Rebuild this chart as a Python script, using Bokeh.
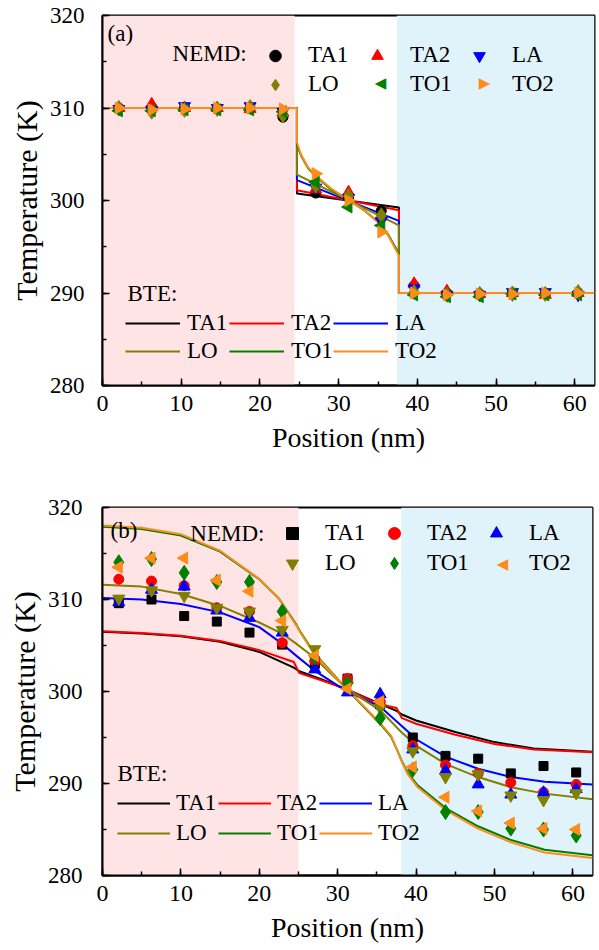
import numpy as np
from bokeh.plotting import figure
from bokeh.models import (BoxAnnotation, Label, Legend, LegendItem, Range1d,
                          SingleIntervalTicker)
from bokeh.layouts import column
from bokeh.embed import file_html
from bokeh.resources import INLINE

FONT = "Liberation Serif"

# ---------------- data ----------------
modes = ["TA1", "TA2", "LA", "LO", "TO1", "TO2"]

x_nemd = [2.08, 6.25, 10.42, 14.58, 18.75, 22.92, 27.08, 31.25, 35.42,
          39.58, 43.75, 47.92, 52.08, 56.25, 60.42]

# panel (a) NEMD
a_TA1 = [310.0, 310.1, 310.0, 309.9, 310.0, 309.0, 300.8, 300.3, 298.9, 290.8, 290.0, 289.9, 290.0, 289.9, 290.0]
a_TA2 = [310.0, 310.4, 310.0, 310.0, 309.9, 309.5, 301.2, 300.9, 298.3, 291.0, 290.2, 289.9, 290.0, 289.8, 290.0]
a_LA = [309.9, 309.8, 310.2, 310.0, 310.2, 309.6, 301.4, 300.3, 297.8, 290.5, 289.8, 289.8, 290.1, 290.1, 289.8]
a_LO = [310.0, 309.6, 309.8, 309.9, 310.1, 309.2, 301.6, 300.5, 298.4, 290.1, 289.8, 289.9, 289.9, 289.9, 290.1]
a_TO1 = [309.7, 309.7, 309.8, 309.8, 309.8, 309.6, 302.0, 299.3, 297.3, 289.8, 289.6, 289.6, 289.9, 289.8, 289.8]
a_TO2 = [310.0, 309.8, 309.9, 310.0, 310.0, 309.9, 302.9, 300.0, 296.6, 290.0, 289.8, 289.9, 289.9, 290.0, 290.0]

# panel (a) BTE
xa_lin = [0.0, 24.7, 24.7, 37.66, 37.66, 62.5]
a_bte_TA1 = [310, 310, 300.75, 299.25, 290, 290]
a_bte_TA2 = [310, 310, 301.1, 298.95, 290, 290]
a_bte_LA = [310, 310, 302.2, 297.8, 290, 290]
a_bte_LO = [310, 310, 302.8, 297.3, 290, 290]
xa_to = [0.0, 24.7, 24.7, 25.2, 26.1, 27.35, 29.05, 31.2, 33.3, 35.0, 36.3, 37.1, 37.66, 37.66, 62.5]
a_bte_TO1 = [310, 310, 306.0, 304.9, 303.5, 302.4, 301.2, 300.1, 298.9, 297.7, 296.3, 295.1, 294.3, 290, 290]
a_bte_TO2 = [310, 310, 306.3, 305.0, 303.6, 302.5, 301.3, 300.1, 298.9, 297.65, 296.2, 294.95, 294.05, 290, 290]

# panel (b) NEMD
b_TA1 = [309.6, 310.0, 308.2, 307.6, 306.4, 305.1, 303.0, 301.4, 298.6, 295.0, 293.0, 292.7, 291.1, 291.9, 291.2]
b_TA2 = [312.2, 312.0, 311.5, 309.1, 308.7, 305.3, 303.3, 301.4, 298.9, 294.1, 292.0, 291.1, 290.1, 289.05, 289.9]
b_LA = [309.7, 311.05, 311.4, 308.8, 308.0, 306.4, 302.4, 299.9, 299.7, 293.7, 291.4, 289.9, 288.8, 289.0, 289.4]
b_LO = [310.1, 311.0, 310.4, 309.1, 308.7, 306.7, 304.6, 300.65, 298.2, 293.5, 290.7, 291.0, 288.7, 288.2, 288.95]
b_TO1 = [314.05, 314.4, 312.9, 311.9, 311.9, 308.7, 303.7, 300.9, 297.1, 291.5, 286.9, 286.9, 285.1, 285.0, 284.35]
b_TO2 = [313.5, 314.5, 314.5, 312.1, 310.9, 307.7, 303.9, 300.3, 298.9, 291.8, 288.5, 287.0, 285.7, 285.1, 285.0]

# panel (b) BTE
xb_ta = [0.0, 5, 10, 15, 20, 24.4, 25.1, 28, 31.25, 35, 37.5, 38.2, 40, 45, 50, 55, 62.5]
b_bte_TA1 = [306.5, 306.3, 306.0, 305.4, 304.3, 302.6, 302.2, 301.3, 300.2, 298.8, 297.9, 297.5, 296.85, 295.6, 294.5, 293.8, 293.45]
b_bte_TA2 = [306.55, 306.35, 306.05, 305.5, 304.5, 303.2, 302.0, 301.2, 300.2, 298.7, 298.2, 297.1, 296.5, 295.3, 294.3, 293.7, 293.4]
xb_l = [0.0, 5, 10, 15, 20, 22.9, 24.7, 27, 31, 35.5, 38.1, 40.2, 43.8, 47.9, 52.1, 56.4, 62.5]
b_bte_LA = [310.15, 310.0, 309.5, 308.6, 307.0, 305.2, 303.9, 302.3, 300.1, 298.3, 296.3, 294.7, 292.9, 291.6, 290.7, 290.2, 289.9]
b_bte_LO = [311.6, 311.4, 310.6, 309.3, 307.5, 306.3, 305.2, 303.7, 300.4, 297.9, 295.6, 294.0, 292.1, 290.7, 289.6, 288.9, 288.3]
xb_to = [0.0, 5, 10, 15, 20, 22.5, 24, 24.7, 25.3, 27, 28.7, 31, 33, 34.7, 35.5, 36.8, 37.6, 38.1, 38.9, 40.2, 43.8, 47.9, 52.1, 56.4, 62.5]
b_bte_TO1 = [317.9, 317.65, 316.95, 315.2, 312.2, 310.1, 308.2, 307.3, 306.4, 304.2, 302.6, 300.4, 298.6, 297.1, 296.4, 295.1, 293.6, 292.6, 291.2, 289.8, 287.3, 285.35, 283.85, 282.8, 282.2]
b_bte_TO2 = [318.05, 317.8, 317.1, 315.3, 312.25, 310.1, 308.1, 307.2, 306.3, 304.1, 302.5, 300.4, 298.7, 297.2, 296.5, 295.2, 293.6, 292.5, 291.05, 289.6, 287.1, 285.1, 283.6, 282.5, 281.9]

x_axis_label = "Position (nm)"
y_axis_label = "Temperature (K)"

# ---------------- styles ----------------
COLORS = ["#000000", "#FF0000", "#0000FF", "#808000", "#008000", "#FF8C1A"]
PINK = "#FFE4E6"
LBLUE = "#E1F3FA"
LEG_FONT = "23px"


def style(p, ystandoff):
    p.xgrid.visible = False
    p.ygrid.visible = False
    p.outline_line_color = "black"
    p.outline_line_width = 2
    p.outline_line_alpha = 1
    p.background_fill_color = "white"
    p.xaxis.ticker = SingleIntervalTicker(interval=10, num_minor_ticks=2)
    p.yaxis.ticker = SingleIntervalTicker(interval=10, num_minor_ticks=2)
    for ax in (p.xaxis[0], p.yaxis[0]):
        ax.axis_line_width = 2
        ax.major_tick_in = 7
        ax.major_tick_out = 0
        ax.minor_tick_in = 4
        ax.minor_tick_out = 0
        ax.major_tick_line_width = 1.5
        ax.minor_tick_line_width = 1.5
        ax.major_label_text_font = FONT
        ax.major_label_text_color = "black"
        ax.axis_label_text_font = FONT
        ax.axis_label_text_font_style = "normal"
        ax.axis_label_text_color = "black"
    p.xaxis.major_label_text_font_size = "24px"
    p.yaxis.major_label_text_font_size = "23px"
    p.xaxis.axis_label_text_font_size = "28px"
    p.yaxis.axis_label_text_font_size = "30px"
    p.xaxis.major_label_standoff = 10
    p.xaxis.axis_label_standoff = 8
    p.yaxis.major_label_standoff = ystandoff
    p.yaxis.axis_label_standoff = 4
    p.xaxis.axis_label = x_axis_label
    p.yaxis.axis_label = y_axis_label


def legend(items, loc, gw, gh, standoff, lw, spacing):
    return Legend(items=items, location=loc, orientation="horizontal", ncols=3,
                  glyph_width=gw, glyph_height=gh, label_standoff=standoff,
                  label_width=lw, label_height=gh, spacing=spacing,
                  padding=0, margin=0, border_line_alpha=0,
                  background_fill_alpha=0, label_text_font=FONT,
                  label_text_font_size=LEG_FONT, label_text_color="black")


def text(p, x, y, s, font=FONT, size=LEG_FONT, color="black", align="left"):
    p.add_layout(Label(x=x, y=y, text=s, text_font=font, text_font_size=size,
                       text_baseline="middle", text_align=align, text_color=color))


def dummy(p):
    # invisible renderer used only as a legend slot (glyph drawn as a label)
    return p.scatter([], [], marker="triangle", size=1, fill_alpha=0, line_alpha=0)


# ---------------- panel (a) ----------------
pa = figure(frame_width=492, frame_height=370, min_border_left=100, min_border_right=7,
            min_border_top=15, min_border_bottom=90,
            x_range=Range1d(0, 62.5), y_range=Range1d(280, 320),
            output_backend="svg", toolbar_location=None)
style(pa, 18)
pa.add_layout(BoxAnnotation(left=0, right=24.4, fill_color=PINK, fill_alpha=1,
                            line_alpha=0, level="underlay"))
pa.add_layout(BoxAnnotation(left=37.4, right=62.5, fill_color=LBLUE, fill_alpha=1,
                            line_alpha=0, level="underlay"))

a_bte = [(xa_lin, a_bte_TA1), (xa_lin, a_bte_TA2), (xa_lin, a_bte_LA),
         (xa_lin, a_bte_LO), (xa_to, a_bte_TO1), (xa_to, a_bte_TO2)]
lines_a = []
for (xx, yy), c in zip(a_bte, COLORS):
    lines_a.append(pa.line(xx, yy, line_color=c, line_width=2))

a_nemd = [a_TA1, a_TA2, a_LA, a_LO, a_TO1, a_TO2]
a_markers = [("circle", 0, 10), ("triangle", 0, 12), ("inverted_triangle", 0, 12),
             ("diamond", 0, 15), ("triangle", np.pi / 2, 12), ("triangle", -np.pi / 2, 12)]
pts_a = []
for yy, c, (m, ang, sz) in zip(a_nemd, COLORS, a_markers):
    pts_a.append(pa.scatter(x_nemd, yy, marker=m, angle=ang, size=sz,
                            fill_color=c, line_color=c))

leg_a = pts_a[:4] + [dummy(pa), dummy(pa)]
pa.add_layout(legend([LegendItem(label=n, renderers=[r]) for n, r in zip(modes, leg_a)],
                     (158, 286.3), 30, 29, 18, 54, 0))
pa.add_layout(legend([LegendItem(label=n, renderers=[r]) for n, r in zip(modes, lines_a)],
                     (23, 20.5), 55, 28, 7, 42, 0))
text(pa, 0.64, 318.05, "(a)")
text(pa, 8.9, 315.9, "NEMD:")
text(pa, 3.18, 289.95, "BTE:")
text(pa, 35.32, 312.7, "\u25C0", font="DejaVu Sans", size="15px", color=COLORS[4], align="center")
text(pa, 48.53, 312.7, "\u25B6", font="DejaVu Sans", size="15px", color=COLORS[5], align="center")

# ---------------- panel (b) ----------------
pb = figure(frame_width=490, frame_height=368, min_border_left=102, min_border_right=7,
            min_border_top=32, min_border_bottom=75,
            x_range=Range1d(0, 62.5), y_range=Range1d(280, 320),
            output_backend="svg", toolbar_location=None)
style(pb, 20)
pb.add_layout(BoxAnnotation(left=0, right=25.0, fill_color=PINK, fill_alpha=1,
                            line_alpha=0, level="underlay"))
pb.add_layout(BoxAnnotation(left=38.1, right=62.5, fill_color=LBLUE, fill_alpha=1,
                            line_alpha=0, level="underlay"))

b_bte = [(xb_ta, b_bte_TA1), (xb_ta, b_bte_TA2), (xb_l, b_bte_LA),
         (xb_l, b_bte_LO), (xb_to, b_bte_TO1), (xb_to, b_bte_TO2)]
lines_b = []
for (xx, yy), c in zip(b_bte, COLORS):
    lines_b.append(pb.line(xx, yy, line_color=c, line_width=2))

b_nemd = [b_TA1, b_TA2, b_LA, b_LO, b_TO1, b_TO2]
b_markers = [("square", 0, 9), ("circle", 0, 10), ("triangle", 0, 12),
             ("inverted_triangle", 0, 12), ("diamond", 0, 15), ("triangle", np.pi / 2, 12)]
pts_b = []
for yy, c, (m, ang, sz) in zip(b_nemd, COLORS, b_markers):
    pts_b.append(pb.scatter(x_nemd, yy, marker=m, angle=ang, size=sz,
                            fill_color=c, line_color=c))

leg_b = pts_b[:5] + [dummy(pb)]
pb.add_layout(legend([LegendItem(label=n, renderers=[r]) for n, r in zip(modes, leg_b)],
                     (175, 296.7), 30, 30, 18, 54, 0))
pb.add_layout(legend([LegendItem(label=n, renderers=[r]) for n, r in zip(modes, lines_b)],
                     (15, 26.7), 53, 30, 6, 42, 0))
text(pb, 1.02, 317.5, "(b)")
text(pb, 11.2, 317.2, "NEMD:")
text(pb, 1.91, 291.1, "BTE:")
text(pb, 51.02, 313.88, "\u25C0", font="DejaVu Sans", size="15px", color=COLORS[5], align="center")

layout = column(pa, pb, spacing=0)
open("out.html", "w").write(file_html(layout, INLINE))
